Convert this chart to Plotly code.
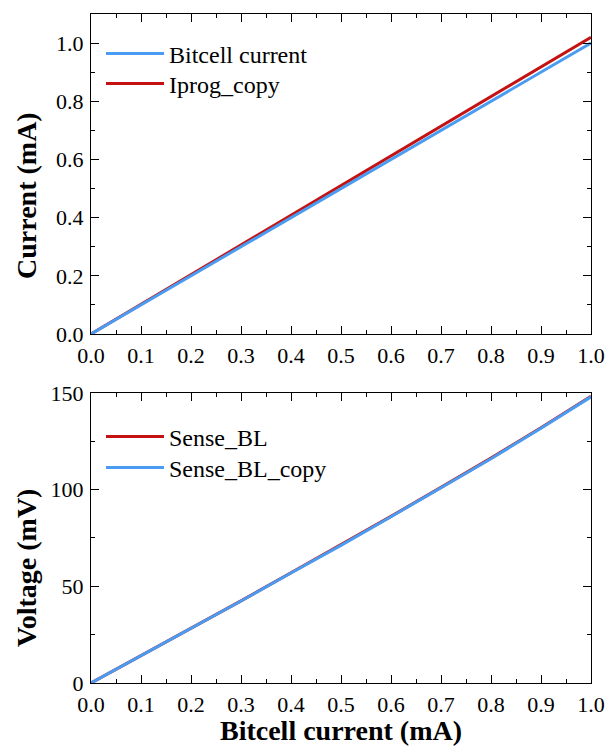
import plotly.graph_objects as go
from plotly.subplots import make_subplots

# Data
bitcell_x = [0.0, 0.1, 0.2, 0.3, 0.4, 0.5, 0.6, 0.7, 0.8, 0.9, 1.0]
bitcell_current = [0.0, 0.1, 0.2, 0.3, 0.4, 0.5, 0.6, 0.7, 0.8, 0.9, 1.0]
iprog_copy = [0.0, 0.102, 0.204, 0.306, 0.408, 0.51, 0.612, 0.714, 0.816, 0.918, 1.02]
sense_bl = [0.0, 14.1, 28.3, 42.5, 57.0, 71.4, 86.2, 101.2, 116.3, 132.0, 148.3]
sense_bl_copy = [0.0, 14.0, 28.2, 42.4, 56.9, 71.2, 86.0, 101.0, 116.0, 131.8, 148.0]

x_ticks = [0.0, 0.1, 0.2, 0.3, 0.4, 0.5, 0.6, 0.7, 0.8, 0.9, 1.0]
x_tick_text = ["0.0", "0.1", "0.2", "0.3", "0.4", "0.5", "0.6", "0.7", "0.8", "0.9", "1.0"]
y1_ticks = [0.0, 0.2, 0.4, 0.6, 0.8, 1.0]
y1_tick_text = ["0.0", "0.2", "0.4", "0.6", "0.8", "1.0"]
y2_ticks = [0, 50, 100, 150]

BLUE = "#4a9cf2"
RED = "#c41212"
FONT = "Liberation Serif"
TICK_SIZE = 22
TITLE_SIZE = 28
LEGEND_SIZE = 24

fig = make_subplots(rows=2, cols=1, shared_xaxes=False)

fig.add_trace(go.Scatter(x=bitcell_x, y=iprog_copy, mode="lines", name="Iprog_copy",
                         line=dict(color=RED, width=3), legend="legend2"), row=1, col=1)
fig.add_trace(go.Scatter(x=bitcell_x, y=bitcell_current, mode="lines", name="Bitcell current",
                         line=dict(color=BLUE, width=3), legend="legend"), row=1, col=1)
fig.add_trace(go.Scatter(x=bitcell_x, y=sense_bl, mode="lines", name="Sense_BL",
                         line=dict(color=RED, width=3), legend="legend3"), row=2, col=1)
fig.add_trace(go.Scatter(x=bitcell_x, y=sense_bl_copy, mode="lines", name="Sense_BL_copy",
                         line=dict(color=BLUE, width=3), legend="legend4"), row=2, col=1)

axis_common = dict(
    showline=True, linecolor="black", linewidth=1.3, mirror="allticks",
    ticks="inside", ticklen=8, tickwidth=1.3, tickcolor="black",
    showgrid=False, zeroline=False, automargin=False,
    tickfont=dict(family=FONT, size=TICK_SIZE, color="black"),
)

fig.update_xaxes(**axis_common, range=[0, 1.0], tickvals=x_ticks, ticktext=x_tick_text,
                 minor=dict(ticks="inside", ticklen=4, dtick=0.05, tickwidth=1.3, tickcolor="black"),
                 ticklabelstandoff=1)
fig.update_xaxes(row=2, col=1,
                 title=dict(text="<b>Bitcell current (mA)</b>",
                            font=dict(family=FONT, size=TITLE_SIZE, color="black"), standoff=2))
fig.update_yaxes(**axis_common, ticklabelstandoff=2)
fig.update_yaxes(row=1, col=1, range=[0, 1.1], tickvals=y1_ticks, ticktext=y1_tick_text,
                 minor=dict(ticks="inside", ticklen=4, dtick=0.1, tickwidth=1.3, tickcolor="black"))
fig.update_yaxes(row=2, col=1, range=[0, 150], tickvals=y2_ticks,
                 minor=dict(ticks="inside", ticklen=4, dtick=25, tickwidth=1.3, tickcolor="black"))

title_font = dict(family=FONT, size=TITLE_SIZE, color="black")
fig.add_annotation(text="<b>Current (mA)</b>", xref="paper", yref="paper", x=-0.128, y=0.728,
                   xanchor="center", yanchor="middle", textangle=-90, showarrow=False, font=title_font)
fig.add_annotation(text="<b>Voltage (mV)</b>", xref="paper", yref="paper", x=-0.128, y=0.172,
                   xanchor="center", yanchor="middle", textangle=-90, showarrow=False, font=title_font)

def leg(y):
    return dict(x=0.02, y=y, xanchor="left", yanchor="middle", bgcolor="rgba(0,0,0,0)",
                font=dict(family=FONT, size=LEGEND_SIZE, color="black"), itemwidth=58)

fig.update_layout(
    width=605, height=746,
    margin=dict(l=91, r=14, t=14, b=63, autoexpand=False),
    plot_bgcolor="white", paper_bgcolor="white",
    xaxis=dict(domain=[0, 1]), xaxis2=dict(domain=[0, 1]),
    yaxis=dict(domain=[0.5217, 1.0]), yaxis2=dict(domain=[0.0, 0.4335]),
    font=dict(family=FONT, size=20, color="black"),
    legend=leg(0.9402), legend2=leg(0.8954), legend3=leg(0.3677), legend4=leg(0.3214),
    showlegend=True,
)

fig.write_html("out.html", config={"displayModeBar": False},
               post_script="document.body.style.margin='0';")
